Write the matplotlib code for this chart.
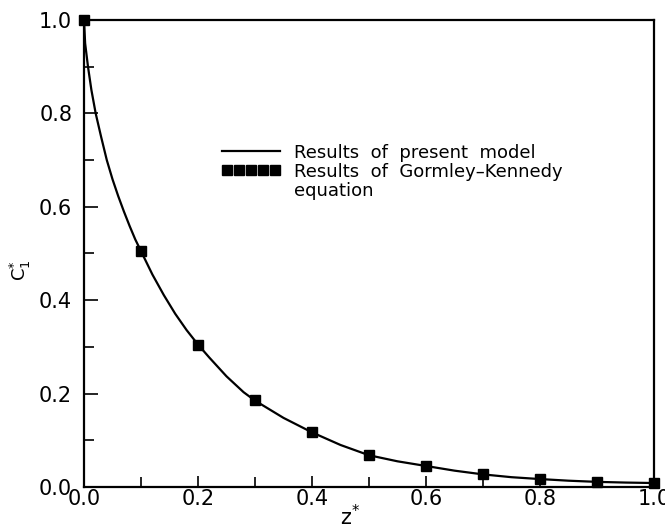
import matplotlib
matplotlib.use("Agg")
import matplotlib.pyplot as plt
from matplotlib.ticker import MultipleLocator, FormatStrFormatter
from matplotlib.legend_handler import HandlerLine2D
from matplotlib.lines import Line2D

# Gormley-Kennedy equation results (markers)
z_gk = [0.0, 0.1, 0.2, 0.3, 0.4, 0.5, 0.6, 0.7, 0.8, 0.9, 1.0]
c_gk = [1.0, 0.506, 0.305, 0.186, 0.117, 0.068, 0.045, 0.027, 0.017, 0.011, 0.0085]

# Present model results (line)
z_model = [0.0, 0.002, 0.007, 0.013, 0.0205, 0.03, 0.04, 0.05, 0.06, 0.07,
           0.08, 0.09, 0.1, 0.12, 0.14, 0.16, 0.18, 0.2, 0.22, 0.25, 0.28,
           0.3, 0.35, 0.4, 0.45, 0.5, 0.55, 0.6, 0.65, 0.7, 0.75, 0.8,
           0.85, 0.9, 0.95, 1.0]
c_model = [1.0, 0.95, 0.90, 0.85, 0.80, 0.75, 0.70, 0.659, 0.623, 0.590,
           0.559, 0.530, 0.505, 0.455, 0.411, 0.371, 0.336, 0.305, 0.277, 0.237, 0.203,
           0.185, 0.148, 0.117, 0.090, 0.068, 0.055, 0.045, 0.035, 0.027, 0.021, 0.017,
           0.0135, 0.011, 0.0095, 0.0085]

plt.rcParams['font.family'] = ['DejaVu Sans']

fig = plt.figure(figsize=(6.65, 5.29), dpi=100)
ax = fig.add_axes([84/665, 1 - 487/529, 570/665, 467/529])

line, = ax.plot(z_model, c_model, color='black', lw=1.6,
                label='Results  of  present  model')
pts, = ax.plot(z_gk, c_gk, linestyle='none', marker='s', markersize=7,
               color='black', clip_on=False,
               label='Results  of  Gormley–Kennedy')
blank = Line2D([], [], color='none', label='equation')

ax.set_xlim(0, 1)
ax.set_ylim(0, 1)
ax.xaxis.set_major_locator(MultipleLocator(0.2))
ax.xaxis.set_minor_locator(MultipleLocator(0.1))
ax.yaxis.set_major_locator(MultipleLocator(0.2))
ax.yaxis.set_minor_locator(MultipleLocator(0.1))
ax.xaxis.set_major_formatter(FormatStrFormatter('%.1f'))
ax.yaxis.set_major_formatter(FormatStrFormatter('%.1f'))
ax.tick_params(which='both', direction='in', top=False, right=False,
               labelsize=15, width=1.2)
ax.tick_params(axis='x', which='major', length=8, pad=1.5)
ax.tick_params(axis='x', which='minor', length=7)
ax.tick_params(axis='y', which='major', length=10, pad=8.5)
ax.tick_params(axis='y', which='minor', length=7)
for s in ax.spines.values():
    s.set_linewidth(1.6)

ax.set_xlabel('z$^{*}$', fontsize=15)
ax.xaxis.set_label_coords(0.467, -0.037)
ax.set_ylabel('C$_1^{*}$', fontsize=13)
ax.yaxis.set_label_coords(-0.09, 0.465)

leg = ax.legend(handles=[line, pts, blank], loc='upper left',
                bbox_to_anchor=(0.242, 0.735), frameon=False, fontsize=13,
                handlelength=3.2, handletextpad=0.8,
                borderpad=0, borderaxespad=0, labelspacing=0.05,
                handler_map={pts: HandlerLine2D(numpoints=5, marker_pad=0.28)})

fig.savefig('out.png', dpi=100)
